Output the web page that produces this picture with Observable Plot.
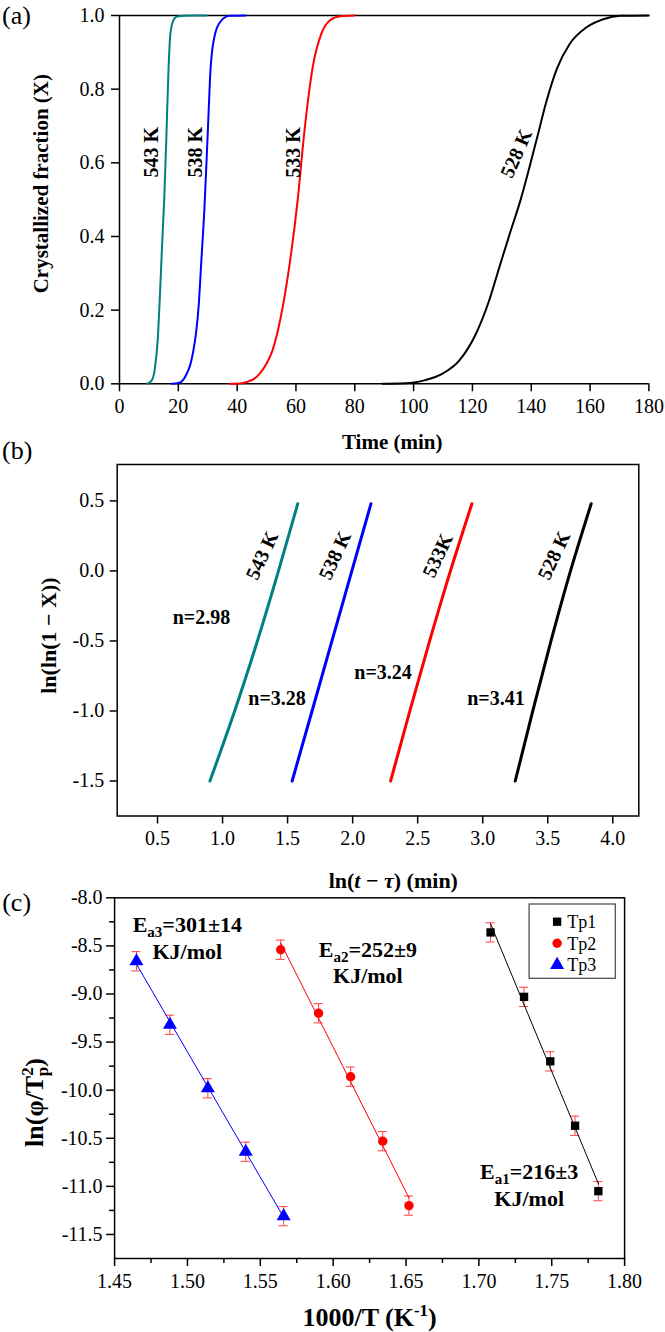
<!DOCTYPE html>
<html>
<head>
<meta charset="utf-8">
<script src="https://cdn.jsdelivr.net/npm/d3@7"></script>
<script src="https://cdn.jsdelivr.net/npm/@observablehq/plot@0.6"></script>
<style>
  body { margin: 0; background: #ffffff; }
  #chart { position: relative; width: 665px; height: 1332px; overflow: hidden; background: #ffffff; font-family: "Liberation Serif", "Times New Roman", serif; }
  #chart svg { position: absolute; left: 0; }
</style>
</head>
<body>
<div id="chart"></div>
<script>
// ================= Panel (a): crystallized fraction X vs time =================
const seriesA = ["543 K", "538 K", "533 K", "528 K"];
const colorsA = ["#008080", "#0000ff", "#ff0000", "#000000"];
const time543 = [9.4, 11.0, 12.0, 13.0, 13.8, 14.5, 15.2, 15.9, 16.6, 17.3, 18.2, 19.5, 21.5, 25.0, 29.6];
const frac543 = [0, 0.01, 0.04, 0.12, 0.25, 0.38, 0.5, 0.66, 0.84, 0.95, 0.985, 0.997, 0.999, 1, 1];
const time538 = [17.8, 20.0, 21.6, 23.0, 24.0, 25.0, 26.0, 27.0, 27.7, 28.9, 30.0, 31.0, 32.5, 34.6, 37.5, 42.9];
const frac538 = [0, 0.002, 0.01, 0.03, 0.05, 0.085, 0.136, 0.22, 0.317, 0.48, 0.68, 0.86, 0.95, 0.986, 0.999, 1];
const time533 = [37.5, 41.0, 43.3, 45.5, 47.6, 50.0, 52.0, 54.8, 57.7, 60.6, 62.8, 65.7, 68.6, 71.4, 75.1, 79.8];
const frac533 = [0, 0.001, 0.005, 0.012, 0.027, 0.055, 0.09, 0.18, 0.317, 0.5, 0.68, 0.86, 0.95, 0.986, 0.998, 1];
const time528 = [89.5, 95.0, 99.6, 104.0, 109.7, 115.5, 121.2, 125.6, 129.2, 132.8, 136.4, 139.3, 142.2, 145.1, 148.7, 153.0, 158.8, 164.5, 170.3, 180.0];
const frac528 = [0, 0.0005, 0.003, 0.01, 0.027, 0.063, 0.136, 0.224, 0.318, 0.41, 0.5, 0.585, 0.675, 0.765, 0.855, 0.922, 0.968, 0.99, 0.999, 1];
const timeTicksA = [0, 20, 40, 60, 80, 100, 120, 140, 160, 180];
const fracTicksA = [0, 0.2, 0.4, 0.6, 0.8, 1.0];
const labelTimeA = [10.8, 26.0, 59.2, 135.0];
const labelFracA = [0.629, 0.629, 0.628, 0.625];
const labelRotA = [-90, -90, -90, -66];
const titleXA = "Time (min)";
const titleYA = "Crystallized fraction (X)";

// ================= Panel (b): Avrami plot =================
const seriesB = ["543 K", "538 K", "533K", "528 K"];
const colorsB = ["#008080", "#0000ff", "#ff0000", "#000000"];
const lnTimeB = [
  [0.903, 1.093, 1.268, 1.430, 1.578],
  [1.535, 1.688, 1.841, 1.994, 2.141],
  [2.292, 2.440, 2.592, 2.752, 2.917],
  [3.250, 3.385, 3.525, 3.675, 3.834]
];
const lnlnB = [-1.5, -1.0, -0.5, 0.0, 0.48];
const nLabelsB = ["n=2.98", "n=3.28", "n=3.24", "n=3.41"];
const nLabelX = [0.838, 1.419, 2.234, 3.102];
const nLabelY = [-0.331, -0.914, -0.724, -0.914];
const kLabelX = [1.305, 1.865, 2.655, 3.55];
const kLabelY = [0.11, 0.11, 0.11, 0.11];
const xTicksB = [0.5, 1.0, 1.5, 2.0, 2.5, 3.0, 3.5, 4.0];
const yTicksB = [-1.5, -1.0, -0.5, 0.0, 0.5];
const titleXB = "ln(t − τ) (min)";
const titleYB = "ln(ln(1 − X))";

// ================= Panel (c): Kissinger plot =================
const seriesC = ["Tp1", "Tp2", "Tp3"];
const colorsC = ["#000000", "#ff0000", "#0000ff"];
const symbolsC = ["square", "circle", "triangle"];
const invT1 = [1.708, 1.731, 1.749, 1.766, 1.782];
const lnPhi1 = [-8.36, -9.03, -9.70, -10.37, -11.05];
const invT2 = [1.564, 1.590, 1.612, 1.634, 1.652];
const lnPhi2 = [-8.54, -9.20, -9.86, -10.53, -11.20];
const invT3 = [1.465, 1.488, 1.514, 1.540, 1.566];
const lnPhi3 = [-8.66, -9.32, -9.98, -10.64, -11.31];
const errC = [0.1, 0.1, 0.1, 0.1, 0.1];
const xTicksC = [1.45, 1.50, 1.55, 1.60, 1.65, 1.70, 1.75, 1.80];
const xMinorC = [1.475, 1.525, 1.575, 1.625, 1.675, 1.725, 1.775];
const yTicksC = [-8.0, -8.5, -9.0, -9.5, -10.0, -10.5, -11.0, -11.5];
const yMinorC = [-8.25, -8.75, -9.25, -9.75, -10.25, -10.75, -11.25];
const eaLine1 = ["Ea3=301±14", "Ea2=252±9", "Ea1=216±3"];
const eaLine2 = ["KJ/mol", "KJ/mol", "KJ/mol"];
const eaX = [1.4999, 1.6238, 1.7345];
const eaY1 = [-8.285, -8.545, -10.85];
const eaY2 = [-8.56, -8.815, -11.13];
const titleXC = "1000/T (K-1)";
const titleYC = "ln(φ/Tp2)";

const panelLabels = ["(a)", "(b)", "(c)"];

// ---------------- rich text replacements (sub/superscripts, italics) ----------------
const rich = {
  "Ea3=301±14": 'E<tspan font-size="15" dy="5">a3</tspan><tspan dy="-5">=301±14</tspan>',
  "Ea2=252±9": 'E<tspan font-size="15" dy="5">a2</tspan><tspan dy="-5">=252±9</tspan>',
  "Ea1=216±3": 'E<tspan font-size="15" dy="5">a1</tspan><tspan dy="-5">=216±3</tspan>',
  "1000/T (K-1)": '1000/T (K<tspan font-size="17" dy="-10">-1</tspan><tspan dy="10">)</tspan>',
  "ln(φ/Tp2)": 'ln(φ/T<tspan font-size="17" dy="-10">2</tspan><tspan font-size="17" dx="-9" dy="15">p</tspan><tspan dy="-5">)</tspan>',
  "ln(t − τ) (min)": 'ln(<tspan font-style="italic">t</tspan> − <tspan font-style="italic">τ</tspan>) (min)'
};

const FONT = "Liberation Serif";
const baseStyle = () => ({fontFamily: FONT, fontSize: "20px", background: "transparent", overflow: "visible", color: "black"});
const bold = {fontWeight: "bold", fill: "black"};
const centered = {textAnchor: "middle", lineAnchor: "middle"};

function applyRich(svg) {
  d3.select(svg).selectAll("text").each(function () {
    const t = this.textContent;
    if (rich[t] && this.childElementCount === 0) this.innerHTML = rich[t];
  });
}

const chart = document.getElementById("chart");

// ======================= Panel (a) =======================
const timesA = [time543, time538, time533, time528];
const fracsA = [frac543, frac538, frac533, frac528];
const rowsA = seriesA.map((s, k) => timesA[k].map((t, i) => ({t, X: fracsA[k][i]})));
const labelsA = seriesA.map((s, i) => ({s, t: labelTimeA[i], X: labelFracA[i], r: labelRotA[i]}));

const plotA = Plot.plot({
  width: 665, height: 460,
  marginLeft: 119, marginRight: 16.6, marginTop: 15, marginBottom: 76.7,
  x: {domain: [0, 180]},
  y: {domain: [0, 1]},
  style: baseStyle(),
  marks: [
    Plot.ruleY([1], {strokeWidth: 1.5}),
    Plot.ruleY([0], {strokeWidth: 1.5}),
    Plot.ruleX([0], {strokeWidth: 1.5}),
    Plot.axisX(timeTicksA, {tickSize: 8, tickPadding: 7, strokeWidth: 1.5, label: null, tickFormat: d => String(d)}),
    Plot.axisY(fracTicksA, {tickSize: 8, tickPadding: 7, strokeWidth: 1.5, label: null, tickFormat: d => d.toFixed(1)}),
    ...rowsA.map((rows, k) => Plot.line(rows, {x: "t", y: "X", stroke: colorsA[k], strokeWidth: 2, curve: "monotone-x"})),
    Plot.text(labelsA, {x: "t", y: "X", text: "s", rotate: "r", fontSize: 20, ...bold}),
    Plot.text([titleXA], {text: d => d, frameAnchor: "bottom", dx: 8, dy: 58.7, fontSize: 21, ...bold, ...centered}),
    Plot.text([titleYA], {text: d => d, frameAnchor: "left", rotate: -90, dx: -78, dy: -16, fontSize: 21, ...bold, ...centered}),
    Plot.text([panelLabels[0]], {text: d => d, frameAnchor: "top-left", dx: -103, dy: 0, fontSize: 26, fill: "black", ...centered})
  ]
});
plotA.style.top = "0px";
chart.appendChild(plotA);

// ======================= Panel (b) =======================
const rowsB = seriesB.map((s, k) => lnTimeB[k].map((x, i) => ({x, y: lnlnB[i]})));
const kLabels = seriesB.map((s, i) => ({s, x: kLabelX[i], y: kLabelY[i]}));
const nLabels = nLabelsB.map((s, i) => ({s, x: nLabelX[i], y: nLabelY[i]}));

const plotB = Plot.plot({
  width: 665, height: 420,
  marginLeft: 116.7, marginRight: 26.7, marginTop: 24, marginBottom: 44.5,
  x: {domain: [0.19, 4.2]},
  y: {domain: [-1.75, 0.76]},
  style: baseStyle(),
  marks: [
    Plot.frame({strokeWidth: 1.5}),
    Plot.axisX(xTicksB, {tickSize: 8, tickPadding: 7, strokeWidth: 1.5, label: null, tickFormat: d => d.toFixed(1)}),
    Plot.axisY(yTicksB, {tickSize: 7, tickPadding: 6, strokeWidth: 1.5, label: null, tickFormat: d => d.toFixed(1)}),
    ...rowsB.map((rows, k) => Plot.line(rows, {x: "x", y: "y", stroke: colorsB[k], strokeWidth: 3, curve: "monotone-y"})),
    Plot.text(kLabels, {x: "x", y: "y", text: "s", rotate: -65, fontSize: 20, ...bold}),
    Plot.text(nLabels, {x: "x", y: "y", text: "s", fontSize: 20, ...bold}),
    Plot.text([titleXB], {text: d => d, frameAnchor: "bottom", dx: 15.3, dy: 64.5, fontSize: 22, ...bold, ...centered}),
    Plot.text([titleYB], {text: d => d, frameAnchor: "left", rotate: -90, dx: -68, dy: -4.7, fontSize: 22, ...bold, ...centered}),
    Plot.text([panelLabels[1]], {text: d => d, frameAnchor: "top-left", dx: -100, dy: -14, fontSize: 26, fill: "black", ...centered})
  ]
});
plotB.style.top = "440px";
applyRich(plotB);
chart.appendChild(plotB);

// ======================= Panel (c) =======================
const xsC = [invT1, invT2, invT3];
const ysC = [lnPhi1, lnPhi2, lnPhi3];
const rowsC = seriesC.map((s, k) => xsC[k].map((x, i) => ({x, y: ysC[k][i], e: errC[i]})));
const allC = rowsC.flat();
const capHalf = 0.0031;
const errColor = "#ff4040";
const eaRows1 = eaLine1.map((s, i) => ({s, x: eaX[i], y: eaY1[i]}));
const eaRows2 = eaLine2.map((s, i) => ({s, x: eaX[i], y: eaY2[i]}));

const plotC = Plot.plot({
  width: 665, height: 472,
  marginLeft: 114.1, marginRight: 40.9, marginTop: 37.3, marginBottom: 74,
  x: {domain: [1.45, 1.80]},
  y: {domain: [-11.75, -8.0]},
  style: baseStyle(),
  marks: [
    Plot.frame({strokeWidth: 1.5}),
    Plot.axisX(xTicksC, {tickSize: 8, tickPadding: 7, strokeWidth: 1.5, label: null, tickFormat: d => d.toFixed(2)}),
    Plot.axisX(xMinorC, {tickSize: 5, strokeWidth: 1.5, label: null, tickFormat: () => ""}),
    Plot.axisY(yTicksC, {tickSize: 8, tickPadding: 4, strokeWidth: 1.5, label: null, tickFormat: d => d.toFixed(1)}),
    Plot.axisY(yMinorC, {tickSize: 5, strokeWidth: 1.5, label: null, tickFormat: () => ""}),
    Plot.ruleX(allC, {x: "x", y1: d => d.y - d.e, y2: d => d.y + d.e, stroke: errColor, strokeWidth: 1}),
    Plot.ruleY(allC, {y: d => d.y + d.e, x1: d => d.x - capHalf, x2: d => d.x + capHalf, stroke: errColor, strokeWidth: 1}),
    Plot.ruleY(allC, {y: d => d.y - d.e, x1: d => d.x - capHalf, x2: d => d.x + capHalf, stroke: errColor, strokeWidth: 1}),
    ...rowsC.map((rows, k) => Plot.linearRegressionY(rows, {x: "x", y: "y", stroke: colorsC[k], strokeWidth: 1, ci: 0})),
    ...rowsC.map((rows, k) => Plot.dot(rows, {x: "x", y: "y", symbol: symbolsC[k], fill: colorsC[k], stroke: "none", r: k === 2 ? 5.2 : 4.7})),
    Plot.text(eaRows1, {x: "x", y: "y", text: "s", fontSize: 22, ...bold}),
    Plot.text(eaRows2, {x: "x", y: "y", text: "s", fontSize: 22, ...bold}),
    Plot.text([titleXC], {text: d => d, frameAnchor: "bottom", dx: 0, dy: 58.7, fontSize: 26, ...bold, ...centered}),
    Plot.text([titleYC], {text: d => d, frameAnchor: "left", rotate: -90, dx: -80, dy: 24.4, fontSize: 26, ...bold, ...centered}),
    Plot.text([panelLabels[2]], {text: d => d, frameAnchor: "top-left", dx: -98, dy: 4.4, fontSize: 26, fill: "black", ...centered})
  ]
});
plotC.style.top = "860px";
applyRich(plotC);

// legend (top-right inside frame)
{
  const svg = d3.select(plotC);
  const right = 665 - 40.9, top = 37.3;
  const g = svg.append("g").attr("font-family", FONT).attr("font-size", 18);
  g.append("rect").attr("x", right - 95).attr("y", top + 6.7).attr("width", 86.2).attr("height", 74.3)
    .attr("fill", "white").attr("stroke", "#444").attr("stroke-width", 1.2);
  const syms = [d3.symbolSquare, d3.symbolCircle, d3.symbolTriangle];
  seriesC.forEach((s, i) => {
    const cy = top + 24.4 + i * 21.6;
    g.append("path").attr("d", d3.symbol(syms[i], Math.PI * (i === 2 ? 5.2 : 4.7) ** 2)())
      .attr("transform", `translate(${right - 67},${cy})`).attr("fill", colorsC[i]);
    g.append("text").attr("x", right - 42.4).attr("y", cy).attr("dy", "0.35em").attr("fill", "black").text(s);
  });
}
chart.appendChild(plotC);
</script>
</body>
</html>
